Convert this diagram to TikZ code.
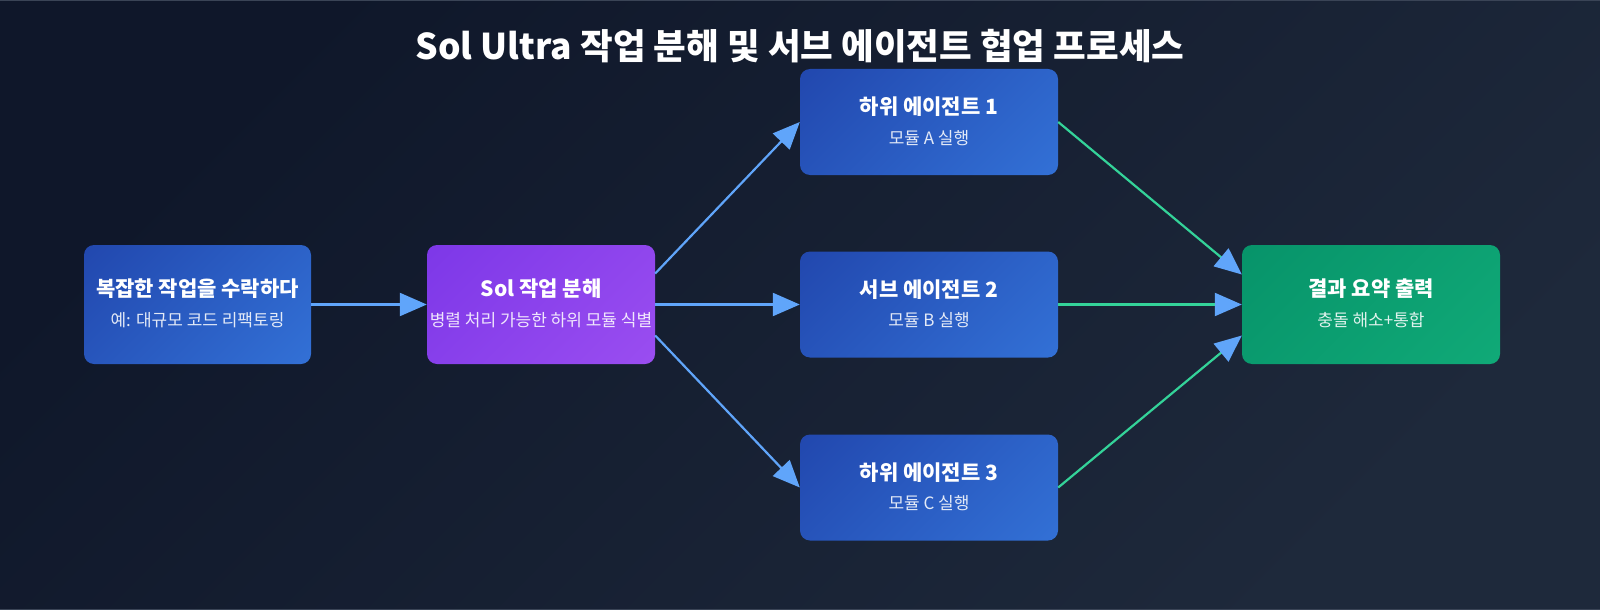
\documentclass[tikz,border=0pt]{standalone}
\usepackage{fontspec}
\setmainfont{Noto Sans CJK KR}
\usetikzlibrary{arrows.meta,positioning}
\definecolor{bgtop}{HTML}{0F172A}
\definecolor{bgbot}{HTML}{1E293B}
\definecolor{edgegray}{HTML}{3A4456}
\definecolor{bluedark}{HTML}{1E3FA6}
\definecolor{bluelight}{HTML}{3679DE}
\definecolor{purpdark}{HTML}{7733E6}
\definecolor{purplight}{HTML}{A052F2}
\definecolor{greendark}{HTML}{058F67}
\definecolor{greenlight}{HTML}{12AE7A}
\definecolor{arrowblue}{HTML}{60A5FA}
\definecolor{linegreen}{HTML}{34D399}
\colorlet{cardtop}{bluedark}
\colorlet{cardbot}{bluelight}
\pgfdeclareverticalshading[cardtop,cardbot]{cardfade}{100bp}{color(0bp)=(cardbot); color(100bp)=(cardtop)}
\begin{document}
\begin{tikzpicture}[x=1pt,y=1pt,
    card/.style 2 args={rounded corners=10pt,inner sep=0pt,
        /utils/exec={\colorlet{cardtop}{#1}\colorlet{cardbot}{#2}},
        shading=cardfade,shading angle=45},
    bluecard/.style={card={bluedark}{bluelight}},
    ttl/.style={text=white,font=\bfseries\fontsize{21}{25}\selectfont},
    sub/.style={text=white,text opacity=0.87,font=\fontsize{17}{20}\selectfont},
    flow/.style={arrowblue,line width=2.2pt,-{Triangle[length=27pt,width=23pt]}},
    merge/.style={linegreen,line width=2.2pt,-{Triangle[length=27pt,width=23pt,color=arrowblue]}}]
    % background
    \shade[top color=bgtop,bottom color=bgbot,shading angle=45] (0,0) rectangle (1600,-610);
    \useasboundingbox (0,0) rectangle (1600,-610);
    \draw[edgegray,line width=1.2pt] (0,-0.6) -- (1600,-0.6);
    \draw[edgegray,line width=1.2pt] (0,-609.4) -- (1600,-609.4);
    \node[text=white,font=\bfseries\fontsize{35.5}{42}\selectfont] (title) at (800,-46)
        {Sol Ultra 작업 분해 및 서브 에이전트 협업 프로세스};

    % boxes
    \node[bluecard,minimum width=227pt,minimum height=119pt] (task) at (197.5,-304.5) {};
    \node[card={purpdark}{purplight},minimum width=228pt,minimum height=119pt] (split) at (541,-304.5) {};
    \node[bluecard,minimum width=258pt,minimum height=106pt] (ag1) at (929,-122) {};
    \node[bluecard,minimum width=258pt,minimum height=106pt] (ag2) at (929,-304.5) {};
    \node[bluecard,minimum width=258pt,minimum height=106pt] (ag3) at (929,-487.5) {};
    \node[card={greendark}{greenlight},minimum width=258pt,minimum height=119pt] (res) at (1371,-304.5) {};

    % texts
    \node[ttl] (taskt) at ([yshift=15.5pt]task.center) {복잡한 작업을 수락하다};
    \node[sub] (tasks) at ([yshift=-15.5pt]task.center) {예: 대규모 코드 리팩토링};
    \node[ttl] (splitt) at ([yshift=15.5pt]split.center) {Sol 작업 분해};
    \node[sub] (splits) at ([yshift=-15.5pt]split.center) {병렬 처리 가능한 하위 모듈 식별};
    \node[ttl] (ag1t) at ([yshift=15pt]ag1.center) {하위 에이전트 1};
    \node[sub] (ag1s) at ([yshift=-16pt]ag1.center) {모듈 A 실행};
    \node[ttl] (ag2t) at ([yshift=15pt]ag2.center) {서브 에이전트 2};
    \node[sub] (ag2s) at ([yshift=-16pt]ag2.center) {모듈 B 실행};
    \node[ttl] (ag3t) at ([yshift=15pt]ag3.center) {하위 에이전트 3};
    \node[sub] (ag3s) at ([yshift=-16pt]ag3.center) {모듈 C 실행};
    \node[ttl] (rest) at ([yshift=15.5pt]res.center) {결과 요약 출력};
    \node[sub] (ress) at ([yshift=-15.5pt]res.center) {충돌 해소+통합};

    % connectors
    \draw[flow] (task.east) -- (split.west);
    \draw[flow] ([yshift=31pt]split.east) -- (ag1.west);
    \draw[flow] (split.east) -- (ag2.west);
    \draw[flow] ([yshift=-31pt]split.east) -- (ag3.west);
    \draw[merge] (ag1.east) -- ([yshift=30pt]res.west);
    \draw[merge] (ag2.east) -- (res.west);
    \draw[merge] (ag3.east) -- ([yshift=-31pt]res.west);
\end{tikzpicture}
\end{document}
